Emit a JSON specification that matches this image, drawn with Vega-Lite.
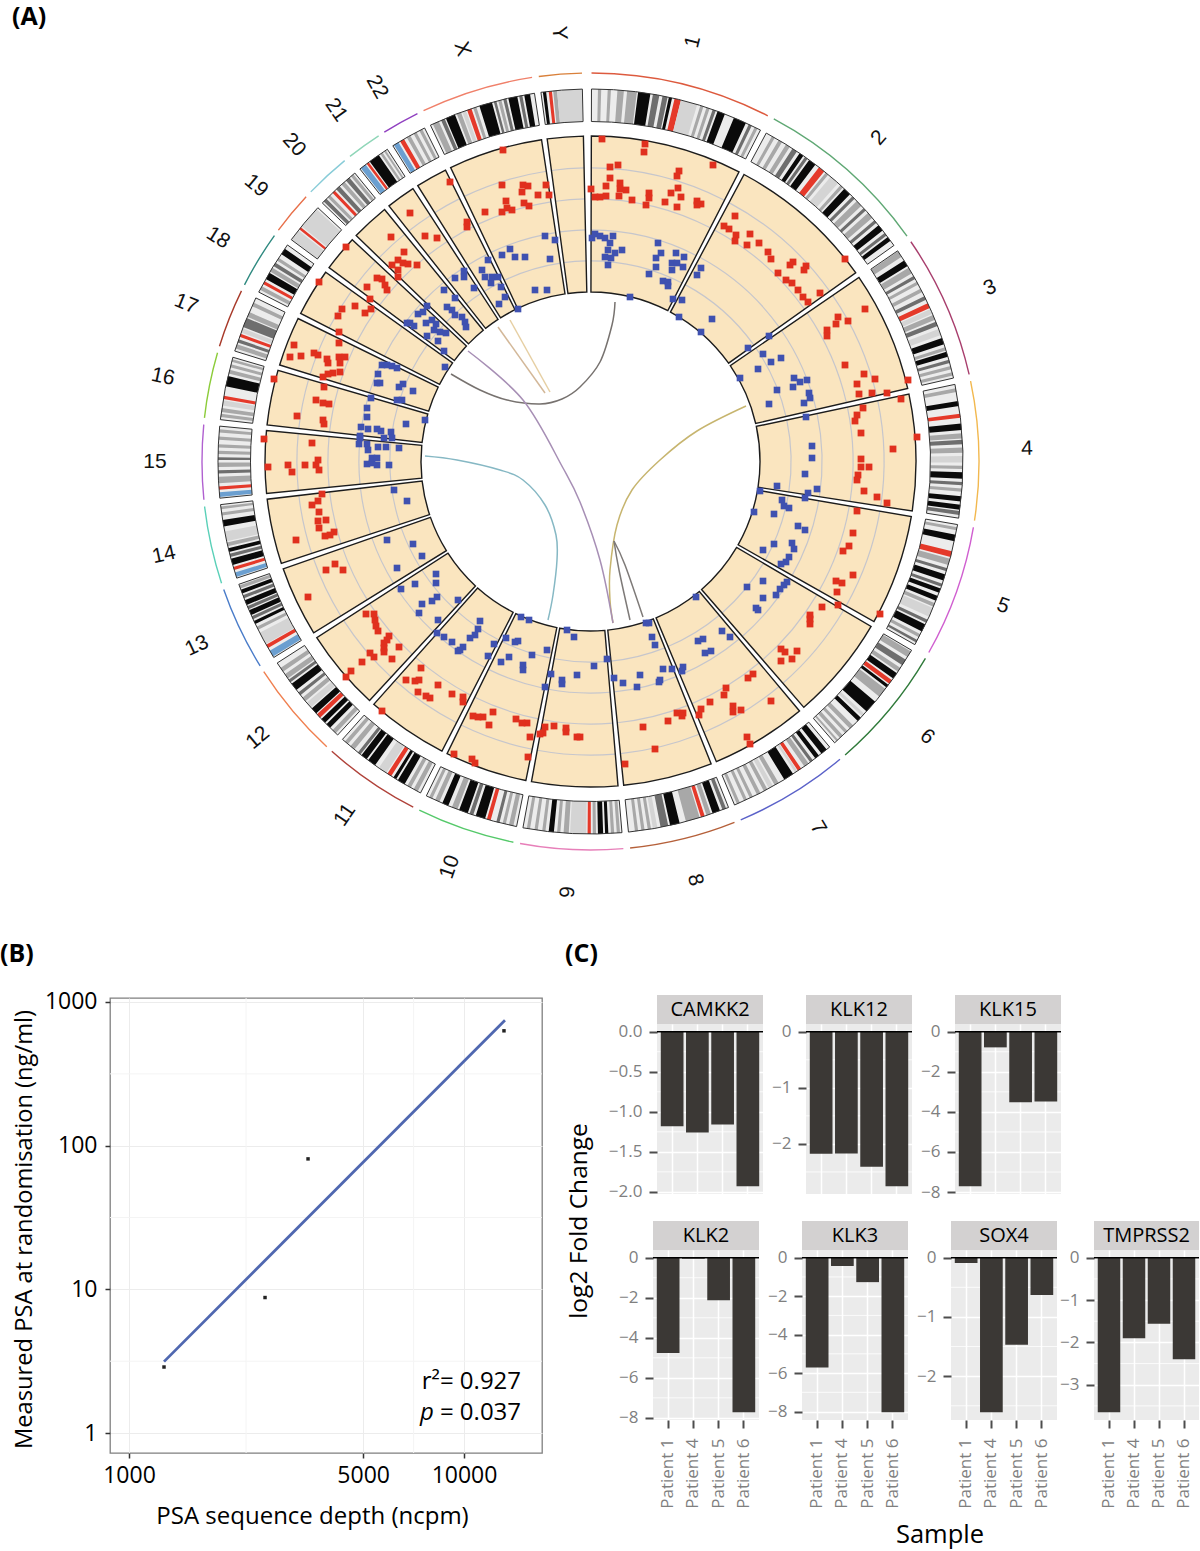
{"$schema":"https://vega.github.io/schema/vega-lite/v6.json","padding":0,"background":"white","bounds":"flush","spacing":0,
"config":{"font":"Open Sans","view":{"stroke":null},"axis":{"domain":false,"tickColor":"#4d4d4d","tickWidth":2,"tickSize":8,"labelColor":"#7f7f7f","labelFontSize":17,"labelFontWeight":"normal","gridColor":"#ffffff","gridWidth":1.5,"labelPadding":7},"title":{"font":"Open Sans","fontSize":20,"fontWeight":"normal","color":"#000000","frame":"group","anchor":"middle","offset":-25}},
"datasets":{
"chr":[{"chr":"1","a0":0.5,"a1":27.5},{"chr":"2","a0":28.5,"a1":54.9},{"chr":"3","a0":55.9,"a1":77.4},{"chr":"4","a0":78.4,"a1":99.1},{"chr":"5","a0":100.1,"a1":119.8},{"chr":"6","a0":120.8,"a1":139.4},{"chr":"7","a0":140.4,"a1":157.6},{"chr":"8","a0":158.6,"a1":174.5},{"chr":"9","a0":175.5,"a1":190.8},{"chr":"10","a0":191.8,"a1":206.5},{"chr":"11","a0":207.5,"a1":222.1},{"chr":"12","a0":223.1,"a1":237.6},{"chr":"13","a0":238.6,"a1":251.1},{"chr":"14","a0":252.1,"a1":263.7},{"chr":"15","a0":264.7,"a1":275.8},{"chr":"16","a0":276.8,"a1":286.6},{"chr":"17","a0":287.6,"a1":296.4},{"chr":"18","a0":297.4,"a1":305.9},{"chr":"19","a0":306.9,"a1":313.3},{"chr":"20","a0":314.3,"a1":321.1},{"chr":"21","a0":322.1,"a1":327.3},{"chr":"22","a0":328.3,"a1":333.9},{"chr":"X","a0":334.9,"a1":351.7},{"chr":"Y","a0":352.7,"a1":359.1}],
"chrlabels":[{"t":"1","x":693,"y":42,"rot":-76},{"t":"2","x":879,"y":138,"rot":-48},{"t":"3","x":990,"y":288,"rot":-23},{"t":"4","x":1027,"y":449,"rot":-1},{"t":"5","x":1003,"y":606,"rot":20},{"t":"6","x":927,"y":737,"rot":40},{"t":"7","x":818,"y":828,"rot":59},{"t":"8","x":695,"y":880,"rot":76},{"t":"9","x":568,"y":892,"rot":-87},{"t":"10","x":450,"y":867,"rot":-71},{"t":"11","x":345,"y":815,"rot":-55},{"t":"12","x":258,"y":738,"rot":-40},{"t":"13","x":197,"y":646,"rot":-25},{"t":"14","x":164,"y":555,"rot":-12},{"t":"15","x":155,"y":462,"rot":0},{"t":"16","x":163,"y":377,"rot":12},{"t":"17","x":186,"y":304,"rot":22},{"t":"18","x":218,"y":238,"rot":32},{"t":"19","x":256,"y":186,"rot":40},{"t":"20","x":294,"y":145,"rot":48},{"t":"21","x":336,"y":110,"rot":55},{"t":"22","x":377,"y":87,"rot":61},{"t":"X","x":462,"y":49,"rot":73},{"t":"Y","x":559,"y":33,"rot":86}],
"bands":[
{"a0":1.5,"a1":2,"s":"g"},{"a0":3,"a1":3.5,"s":"g"},{"a0":4.5,"a1":5.5,"s":"g"},{"a0":6,"a1":7.5,"s":"g"},{"a0":7.7,"a1":9.6,"s":"k"},{"a0":10,"a1":11,"s":"d"},{"a0":11.5,"a1":12.3,"s":"d"},{"a0":12.5,"a1":13,"s":"k"},{"a0":13.4,"a1":14.4,"s":"r"},{"a0":14.4,"a1":17,"s":"l"},{"a0":17.5,"a1":18,"s":"g"},{"a0":18.5,"a1":19,"s":"g"},{"a0":19.5,"a1":20,"s":"d"},{"a0":20.3,"a1":21.5,"s":"k"},{"a0":23,"a1":25,"s":"k"},{"a0":25.5,"a1":26,"s":"d"},{"a0":26.5,"a1":27,"s":"g"},
{"a0":29.5,"a1":30,"s":"g"},{"a0":30.7,"a1":31.3,"s":"g"},{"a0":32,"a1":32.7,"s":"g"},{"a0":33.2,"a1":34,"s":"d"},{"a0":34.5,"a1":35.2,"s":"k"},{"a0":35.5,"a1":36,"s":"d"},{"a0":36.3,"a1":37.5,"s":"k"},{"a0":38.2,"a1":39.2,"s":"r"},{"a0":39.5,"a1":40,"s":"g"},{"a0":40.5,"a1":42,"s":"l"},{"a0":42.5,"a1":43,"s":"g"},{"a0":43.3,"a1":44.5,"s":"k"},{"a0":45,"a1":45.5,"s":"d"},{"a0":46,"a1":47,"s":"g"},{"a0":47.5,"a1":48,"s":"d"},{"a0":48.5,"a1":49.5,"s":"g"},{"a0":50,"a1":50.5,"s":"d"},{"a0":51,"a1":52,"s":"k"},{"a0":52.5,"a1":53,"s":"d"},{"a0":53.3,"a1":54,"s":"k"},
{"a0":56,"a1":57,"s":"g"},{"a0":57.7,"a1":58.7,"s":"k"},{"a0":59,"a1":60,"s":"g"},{"a0":60.5,"a1":61,"s":"d"},{"a0":61.5,"a1":62,"s":"g"},{"a0":62.7,"a1":63.3,"s":"g"},{"a0":64,"a1":64.6,"s":"d"},{"a0":65.2,"a1":66,"s":"r"},{"a0":66.2,"a1":67,"s":"l"},{"a0":67.2,"a1":68,"s":"g"},{"a0":68.3,"a1":69,"s":"d"},{"a0":69.5,"a1":70.5,"s":"l"},{"a0":71,"a1":72,"s":"k"},{"a0":72.5,"a1":73,"s":"g"},{"a0":73.2,"a1":74,"s":"k"},{"a0":74.5,"a1":75,"s":"d"},{"a0":75.5,"a1":76,"s":"g"},{"a0":76.5,"a1":77,"s":"g"},
{"a0":79,"a1":79.6,"s":"g"},{"a0":81,"a1":81.8,"s":"k"},{"a0":83,"a1":83.6,"s":"r"},{"a0":84.5,"a1":85.5,"s":"k"},{"a0":86,"a1":86.8,"s":"g"},{"a0":87,"a1":87.7,"s":"d"},{"a0":88.2,"a1":89,"s":"g"},{"a0":89.5,"a1":90.5,"s":"l"},{"a0":91,"a1":91.5,"s":"g"},{"a0":92,"a1":93,"s":"k"},{"a0":93.5,"a1":94,"s":"d"},{"a0":94.5,"a1":95,"s":"g"},{"a0":95.7,"a1":96.5,"s":"k"},{"a0":97,"a1":97.8,"s":"k"},{"a0":98,"a1":98.6,"s":"d"},
{"a0":100.5,"a1":101,"s":"g"},{"a0":101.7,"a1":102.7,"s":"k"},{"a0":104.3,"a1":105.2,"s":"r"},{"a0":105.5,"a1":106.5,"s":"g"},{"a0":107,"a1":107.5,"s":"d"},{"a0":108,"a1":109,"s":"k"},{"a0":109.5,"a1":110,"s":"d"},{"a0":110.3,"a1":111,"s":"k"},{"a0":111.5,"a1":112.3,"s":"k"},{"a0":112.7,"a1":113.3,"s":"g"},{"a0":113.5,"a1":115,"s":"l"},{"a0":115.5,"a1":116,"s":"d"},{"a0":116.3,"a1":117.5,"s":"k"},{"a0":118,"a1":118.5,"s":"g"},{"a0":119,"a1":119.4,"s":"d"},
{"a0":121,"a1":122,"s":"g"},{"a0":122.5,"a1":123.5,"s":"d"},{"a0":124,"a1":124.7,"s":"g"},{"a0":125,"a1":126,"s":"k"},{"a0":126.3,"a1":127,"s":"r"},{"a0":127.2,"a1":127.7,"s":"k"},{"a0":128,"a1":129.5,"s":"g"},{"a0":130.5,"a1":132.5,"s":"k"},{"a0":133,"a1":133.5,"s":"l"},{"a0":133.8,"a1":134.5,"s":"k"},{"a0":135.5,"a1":136.2,"s":"g"},{"a0":136.7,"a1":137.2,"s":"g"},{"a0":137.7,"a1":138.3,"s":"g"},{"a0":138.7,"a1":139,"s":"g"},
{"a0":141,"a1":142,"s":"k"},{"a0":142.5,"a1":143.2,"s":"k"},{"a0":143.7,"a1":144.2,"s":"d"},{"a0":144.5,"a1":145.3,"s":"g"},{"a0":145.9,"a1":146.5,"s":"r"},{"a0":146.6,"a1":147,"s":"l"},{"a0":147.4,"a1":149,"s":"k"},{"a0":150,"a1":150.7,"s":"g"},{"a0":151,"a1":151.7,"s":"l"},{"a0":152,"a1":152.6,"s":"g"},{"a0":153.2,"a1":153.8,"s":"g"},{"a0":154.5,"a1":155,"s":"g"},{"a0":155.5,"a1":156,"s":"g"},{"a0":156.7,"a1":157.2,"s":"g"},
{"a0":159,"a1":159.6,"s":"d"},{"a0":160,"a1":161.2,"s":"k"},{"a0":161.5,"a1":162.2,"s":"g"},{"a0":162.5,"a1":163.1,"s":"r"},{"a0":163.3,"a1":165.5,"s":"g"},{"a0":166.5,"a1":168,"s":"k"},{"a0":168.3,"a1":169.5,"s":"d"},{"a0":170,"a1":170.7,"s":"l"},{"a0":171,"a1":171.5,"s":"g"},{"a0":172,"a1":172.5,"s":"g"},{"a0":173,"a1":173.5,"s":"g"},
{"a0":175.8,"a1":176.3,"s":"g"},{"a0":176.7,"a1":177.2,"s":"g"},{"a0":177.6,"a1":178.1,"s":"k"},{"a0":178.4,"a1":179.2,"s":"k"},{"a0":179.5,"a1":180,"s":"g"},{"a0":180.3,"a1":180.8,"s":"r"},{"a0":181,"a1":183.5,"s":"l"},{"a0":183.7,"a1":184.5,"s":"g"},{"a0":185,"a1":185.5,"s":"g"},{"a0":186,"a1":186.8,"s":"k"},{"a0":187.3,"a1":187.8,"s":"g"},{"a0":188.5,"a1":189,"s":"g"},{"a0":189.7,"a1":190.2,"s":"g"},
{"a0":192.3,"a1":193,"s":"g"},{"a0":193.5,"a1":194,"s":"g"},{"a0":194.5,"a1":195,"s":"d"},{"a0":195.9,"a1":196.5,"s":"r"},{"a0":196.8,"a1":198.3,"s":"k"},{"a0":198.7,"a1":199.3,"s":"d"},{"a0":199.6,"a1":201,"s":"k"},{"a0":201.3,"a1":202.2,"s":"g"},{"a0":202.8,"a1":203.8,"s":"k"},{"a0":204.3,"a1":205,"s":"g"},{"a0":205.5,"a1":206,"s":"g"},
{"a0":208,"a1":208.7,"s":"g"},{"a0":209.2,"a1":209.8,"s":"g"},{"a0":210.3,"a1":211.5,"s":"k"},{"a0":211.8,"a1":212.3,"s":"k"},{"a0":212.7,"a1":213.4,"s":"r"},{"a0":213.6,"a1":215,"s":"l"},{"a0":215.7,"a1":217,"s":"k"},{"a0":217.3,"a1":218.3,"s":"k"},{"a0":218.5,"a1":219,"s":"d"},{"a0":219.7,"a1":220.5,"s":"g"},{"a0":221,"a1":221.6,"s":"g"},
{"a0":223.5,"a1":224.2,"s":"g"},{"a0":224.7,"a1":225.5,"s":"k"},{"a0":225.8,"a1":226.6,"s":"k"},{"a0":226.9,"a1":227.6,"s":"r"},{"a0":227.8,"a1":228.8,"s":"k"},{"a0":229,"a1":230,"s":"l"},{"a0":230.3,"a1":231,"s":"g"},{"a0":231.5,"a1":232,"s":"d"},{"a0":232.5,"a1":233.7,"s":"k"},{"a0":234,"a1":234.5,"s":"d"},{"a0":234.7,"a1":235.5,"s":"g"},{"a0":236,"a1":236.7,"s":"g"},
{"a0":238.8,"a1":239.8,"s":"b"},{"a0":240.3,"a1":240.9,"s":"r"},{"a0":241,"a1":243,"s":"l"},{"a0":243.5,"a1":244,"s":"g"},{"a0":244.5,"a1":245,"s":"k"},{"a0":245.3,"a1":245.8,"s":"d"},{"a0":246,"a1":246.8,"s":"k"},{"a0":247,"a1":247.5,"s":"d"},{"a0":247.7,"a1":248.5,"s":"k"},{"a0":248.8,"a1":249.3,"s":"d"},{"a0":249.6,"a1":250.2,"s":"k"},{"a0":250.4,"a1":250.9,"s":"g"},
{"a0":252.3,"a1":253,"s":"b"},{"a0":253.4,"a1":253.9,"s":"r"},{"a0":254.2,"a1":255.2,"s":"k"},{"a0":255.5,"a1":256,"s":"d"},{"a0":256.3,"a1":256.9,"s":"k"},{"a0":257.2,"a1":257.8,"s":"g"},{"a0":258,"a1":259.5,"s":"l"},{"a0":260.3,"a1":261.3,"s":"k"},{"a0":262,"a1":262.5,"s":"g"},{"a0":263,"a1":263.4,"s":"g"},
{"a0":264.9,"a1":265.6,"s":"b"},{"a0":266,"a1":266.5,"s":"r"},{"a0":267,"a1":268,"s":"g"},{"a0":268.5,"a1":269,"s":"d"},{"a0":269.5,"a1":270.2,"s":"g"},{"a0":270.6,"a1":271,"s":"d"},{"a0":271.5,"a1":272,"s":"g"},{"a0":272.5,"a1":273,"s":"g"},{"a0":273.7,"a1":274.2,"s":"g"},{"a0":274.8,"a1":275.3,"s":"g"},
{"a0":277.2,"a1":277.7,"s":"g"},{"a0":278,"a1":278.6,"s":"g"},{"a0":279,"a1":279.8,"s":"l"},{"a0":280,"a1":280.5,"s":"r"},{"a0":282,"a1":283.6,"s":"k"},{"a0":284,"a1":284.6,"s":"g"},{"a0":285,"a1":285.5,"s":"g"},{"a0":285.9,"a1":286.3,"s":"g"},
{"a0":288,"a1":288.7,"s":"g"},{"a0":289,"a1":289.5,"s":"d"},{"a0":289.9,"a1":290.4,"s":"r"},{"a0":290.6,"a1":291.3,"s":"l"},{"a0":291.5,"a1":293,"s":"d"},{"a0":293.2,"a1":294,"s":"g"},{"a0":295,"a1":295.6,"s":"g"},
{"a0":297.8,"a1":298.4,"s":"g"},{"a0":298.8,"a1":299.3,"s":"r"},{"a0":299.7,"a1":300.8,"s":"k"},{"a0":301,"a1":301.7,"s":"g"},{"a0":302,"a1":302.6,"s":"d"},{"a0":303,"a1":303.5,"s":"g"},{"a0":304.2,"a1":305.2,"s":"k"},
{"a0":307,"a1":308.7,"s":"l"},{"a0":308.9,"a1":309.3,"s":"r"},{"a0":309.5,"a1":313,"s":"l"},
{"a0":314.6,"a1":315.2,"s":"d"},{"a0":315.5,"a1":316,"s":"g"},{"a0":316.5,"a1":317,"s":"r"},{"a0":317.3,"a1":318,"s":"d"},{"a0":318.4,"a1":319,"s":"g"},{"a0":319.3,"a1":320,"s":"d"},{"a0":320.3,"a1":320.8,"s":"g"},
{"a0":322.3,"a1":323.2,"s":"b"},{"a0":323.4,"a1":323.8,"s":"r"},{"a0":324,"a1":325.7,"s":"k"},{"a0":326,"a1":326.4,"s":"g"},{"a0":326.7,"a1":327,"s":"g"},
{"a0":328.5,"a1":329.3,"s":"b"},{"a0":329.6,"a1":330.3,"s":"r"},{"a0":330.8,"a1":331.4,"s":"g"},{"a0":332,"a1":332.5,"s":"g"},{"a0":333,"a1":333.5,"s":"g"},
{"a0":335.3,"a1":336.3,"s":"g"},{"a0":336.7,"a1":337.3,"s":"d"},{"a0":337.5,"a1":339,"s":"k"},{"a0":339.3,"a1":340,"s":"g"},{"a0":340.2,"a1":340.8,"s":"l"},{"a0":341,"a1":341.7,"s":"r"},{"a0":342,"a1":342.5,"s":"g"},{"a0":343,"a1":345,"s":"k"},{"a0":345.3,"a1":345.7,"s":"d"},{"a0":346,"a1":346.5,"s":"g"},{"a0":346.8,"a1":347.3,"s":"d"},{"a0":347.6,"a1":349,"s":"k"},{"a0":349.3,"a1":349.8,"s":"d"},{"a0":350.1,"a1":351,"s":"k"},
{"a0":353,"a1":353.5,"s":"k"},{"a0":353.9,"a1":354.4,"s":"r"},{"a0":354.6,"a1":355.2,"s":"g"},{"a0":355.2,"a1":359,"s":"l"}],
"up":[{"x":602,"y":139},{"x":645,"y":144},{"x":644,"y":152},{"x":610,"y":167},{"x":618,"y":165},{"x":679,"y":171},{"x":677,"y":176},{"x":610,"y":178},{"x":713,"y":165},{"x":620,"y":183},{"x":606,"y":186},{"x":591,"y":189},{"x":620,"y":189},{"x":626,"y":190},{"x":678,"y":188},{"x":619,"y":196},{"x":595,"y":197},{"x":600,"y":197},{"x":606,"y":196},{"x":632,"y":200},{"x":649,"y":193},{"x":649,"y":198},{"x":646,"y":205},{"x":671,"y":193},{"x":681,"y":197},{"x":665,"y":202},{"x":677,"y":207},{"x":697,"y":201},{"x":701,"y":204},{"x":697,"y":205},{"x":735,"y":216},{"x":724,"y":226},{"x":729,"y":229},{"x":736,"y":235},{"x":735,"y":241},{"x":750,"y":234},{"x":747,"y":245},{"x":759,"y":243},{"x":768,"y":252},{"x":771,"y":259},{"x":793,"y":262},{"x":790,"y":265},{"x":806,"y":266},{"x":804,"y":270},{"x":845,"y":259},{"x":778,"y":273},{"x":786,"y":280},{"x":792,"y":283},{"x":798,"y":290},{"x":803,"y":297},{"x":808,"y":302},{"x":820,"y":293},{"x":865,"y":309},{"x":838,"y":317},{"x":836,"y":324},{"x":848,"y":321},{"x":827,"y":330},{"x":827,"y":336},{"x":845,"y":365},{"x":864,"y":374},{"x":875,"y":379},{"x":857,"y":384},{"x":859,"y":394},{"x":872,"y":393},{"x":887,"y":393},{"x":908,"y":380},{"x":901,"y":399},{"x":863,"y":408},{"x":857,"y":415},{"x":855,"y":421},{"x":861,"y":433},{"x":917,"y":437},{"x":893,"y":449},{"x":861,"y":459},{"x":861,"y":467},{"x":869,"y":467},{"x":858,"y":475},{"x":857,"y":480},{"x":864,"y":491},{"x":877,"y":497},{"x":887,"y":503},{"x":857,"y":511},{"x":853,"y":533},{"x":849,"y":546},{"x":843,"y":551},{"x":853,"y":575},{"x":836,"y":581},{"x":842,"y":583},{"x":837,"y":592},{"x":838,"y":605},{"x":880,"y":614},{"x":822,"y":607},{"x":810,"y":615},{"x":810,"y":619},{"x":810,"y":624},{"x":781,"y":649},{"x":785,"y":652},{"x":797,"y":651},{"x":792,"y":659},{"x":781,"y":661},{"x":753,"y":674},{"x":748,"y":678},{"x":726,"y":688},{"x":724,"y":695},{"x":710,"y":702},{"x":771,"y":701},{"x":733,"y":706},{"x":733,"y":712},{"x":741,"y":710},{"x":701,"y":709},{"x":699,"y":715},{"x":747,"y":737},{"x":750,"y":744},{"x":677,"y":713},{"x":683,"y":713},{"x":682,"y":716},{"x":668,"y":721},{"x":643,"y":727},{"x":655,"y":749},{"x":625,"y":764},{"x":580,"y":737},{"x":577,"y":737},{"x":566,"y":728},{"x":566,"y":732},{"x":554,"y":726},{"x":545,"y":727},{"x":543,"y":733},{"x":540,"y":734},{"x":530,"y":737},{"x":527,"y":723},{"x":522,"y":723},{"x":516,"y":719},{"x":528,"y":757},{"x":493,"y":712},{"x":489,"y":725},{"x":483,"y":717},{"x":478,"y":717},{"x":473,"y":716},{"x":454,"y":754},{"x":472,"y":759},{"x":475,"y":763},{"x":463,"y":697},{"x":463,"y":702},{"x":452,"y":694},{"x":438,"y":685},{"x":421,"y":668},{"x":406,"y":680},{"x":415,"y":681},{"x":419,"y":680},{"x":418,"y":692},{"x":426,"y":696},{"x":430,"y":698},{"x":382,"y":711},{"x":366,"y":614},{"x":374,"y":614},{"x":375,"y":620},{"x":376,"y":626},{"x":378,"y":631},{"x":389,"y":636},{"x":387,"y":640},{"x":384,"y":643},{"x":384,"y":648},{"x":384,"y":652},{"x":399,"y":647},{"x":392,"y":659},{"x":370,"y":653},{"x":374,"y":657},{"x":362,"y":662},{"x":351,"y":671},{"x":346,"y":677},{"x":335,"y":564},{"x":326,"y":570},{"x":343,"y":570},{"x":308,"y":597},{"x":322,"y":494},{"x":318,"y":501},{"x":312,"y":505},{"x":319,"y":512},{"x":318,"y":521},{"x":326,"y":520},{"x":319,"y":528},{"x":334,"y":532},{"x":330,"y":535},{"x":325,"y":536},{"x":296,"y":540},{"x":268,"y":467},{"x":288,"y":465},{"x":292,"y":472},{"x":305,"y":465},{"x":316,"y":465},{"x":319,"y":470},{"x":318,"y":460},{"x":264,"y":439},{"x":312,"y":443},{"x":274,"y":379},{"x":324,"y":387},{"x":316,"y":400},{"x":323,"y":403},{"x":329,"y":404},{"x":297,"y":416},{"x":323,"y":420},{"x":324,"y":424},{"x":294,"y":345},{"x":290,"y":357},{"x":301,"y":356},{"x":314,"y":353},{"x":318,"y":355},{"x":327,"y":359},{"x":328,"y":363},{"x":339,"y":357},{"x":345,"y":357},{"x":340,"y":363},{"x":340,"y":372},{"x":333,"y":373},{"x":328,"y":374},{"x":323,"y":377},{"x":339,"y":332},{"x":339,"y":343},{"x":319,"y":282},{"x":355,"y":306},{"x":342,"y":309},{"x":338,"y":316},{"x":365,"y":313},{"x":371,"y":309},{"x":370,"y":299},{"x":346,"y":247},{"x":367,"y":287},{"x":377,"y":278},{"x":382,"y":279},{"x":385,"y":285},{"x":387,"y":290},{"x":391,"y":237},{"x":404,"y":252},{"x":392,"y":265},{"x":398,"y":260},{"x":403,"y":263},{"x":408,"y":264},{"x":417,"y":265},{"x":398,"y":270},{"x":398,"y":277},{"x":410,"y":213},{"x":425,"y":236},{"x":437,"y":238},{"x":450,"y":182},{"x":467,"y":222},{"x":467,"y":227},{"x":503,"y":150},{"x":502,"y":185},{"x":523,"y":185},{"x":528,"y":186},{"x":522,"y":192},{"x":546,"y":185},{"x":538,"y":195},{"x":549,"y":195},{"x":506,"y":201},{"x":485,"y":212},{"x":502,"y":212},{"x":507,"y":208},{"x":512,"y":210},{"x":524,"y":203},{"x":529,"y":206}],
"down":[{"x":592,"y":238},{"x":595,"y":234},{"x":600,"y":236},{"x":605,"y":238},{"x":613,"y":236},{"x":610,"y":243},{"x":608,"y":250},{"x":605,"y":257},{"x":615,"y":253},{"x":622,"y":250},{"x":611,"y":258},{"x":608,"y":265},{"x":658,"y":243},{"x":661,"y":253},{"x":656,"y":258},{"x":676,"y":253},{"x":684,"y":257},{"x":656,"y":267},{"x":672,"y":263},{"x":677,"y":263},{"x":672,"y":270},{"x":683,"y":267},{"x":649,"y":274},{"x":663,"y":281},{"x":668,"y":282},{"x":668,"y":286},{"x":630,"y":297},{"x":673,"y":299},{"x":701,"y":268},{"x":697,"y":275},{"x":682,"y":300},{"x":679,"y":317},{"x":712,"y":319},{"x":701,"y":332},{"x":748,"y":348},{"x":769,"y":336},{"x":763,"y":354},{"x":781,"y":358},{"x":771,"y":362},{"x":758,"y":369},{"x":740,"y":378},{"x":794,"y":378},{"x":800,"y":382},{"x":807,"y":380},{"x":793,"y":387},{"x":777,"y":390},{"x":809,"y":393},{"x":810,"y":398},{"x":804,"y":403},{"x":769,"y":404},{"x":806,"y":417},{"x":812,"y":446},{"x":812,"y":458},{"x":805,"y":474},{"x":777,"y":486},{"x":817,"y":489},{"x":808,"y":493},{"x":805,"y":498},{"x":760,"y":491},{"x":782,"y":500},{"x":784,"y":506},{"x":789,"y":508},{"x":754,"y":512},{"x":774,"y":514},{"x":798,"y":526},{"x":805,"y":530},{"x":774,"y":544},{"x":763,"y":550},{"x":792,"y":543},{"x":794,"y":549},{"x":789,"y":557},{"x":786,"y":562},{"x":781,"y":564},{"x":787,"y":582},{"x":784,"y":585},{"x":780,"y":589},{"x":776,"y":595},{"x":747,"y":587},{"x":763,"y":581},{"x":763,"y":598},{"x":756,"y":608},{"x":758,"y":610},{"x":696,"y":597},{"x":722,"y":631},{"x":730,"y":637},{"x":703,"y":639},{"x":698,"y":641},{"x":711,"y":651},{"x":705,"y":653},{"x":683,"y":667},{"x":682,"y":671},{"x":660,"y":680},{"x":646,"y":623},{"x":649,"y":623},{"x":652,"y":637},{"x":655,"y":645},{"x":663,"y":669},{"x":672,"y":669},{"x":640,"y":675},{"x":614,"y":678},{"x":623,"y":683},{"x":637,"y":687},{"x":659,"y":682},{"x":607,"y":659},{"x":594,"y":666},{"x":567,"y":630},{"x":574,"y":637},{"x":577,"y":675},{"x":562,"y":680},{"x":562,"y":684},{"x":551,"y":674},{"x":545,"y":687},{"x":521,"y":617},{"x":529,"y":620},{"x":547,"y":650},{"x":532,"y":655},{"x":509,"y":657},{"x":501,"y":662},{"x":523,"y":665},{"x":523,"y":670},{"x":518,"y":641},{"x":506,"y":638},{"x":515,"y":642},{"x":494,"y":644},{"x":488,"y":656},{"x":480,"y":621},{"x":478,"y":629},{"x":475,"y":635},{"x":470,"y":638},{"x":463,"y":647},{"x":460,"y":650},{"x":458,"y":651},{"x":452,"y":642},{"x":444,"y":637},{"x":437,"y":633},{"x":458,"y":600},{"x":436,"y":574},{"x":436,"y":583},{"x":415,"y":584},{"x":401,"y":589},{"x":437,"y":597},{"x":432,"y":601},{"x":422,"y":604},{"x":419,"y":613},{"x":438,"y":620},{"x":387,"y":540},{"x":413,"y":544},{"x":422,"y":556},{"x":397,"y":568},{"x":394,"y":490},{"x":407,"y":501},{"x":367,"y":464},{"x":372,"y":463},{"x":377,"y":465},{"x":389,"y":465},{"x":361,"y":427},{"x":368,"y":429},{"x":377,"y":429},{"x":381,"y":431},{"x":391,"y":432},{"x":360,"y":436},{"x":360,"y":438},{"x":384,"y":438},{"x":392,"y":438},{"x":359,"y":444},{"x":367,"y":444},{"x":368,"y":450},{"x":378,"y":447},{"x":386,"y":447},{"x":399,"y":448},{"x":372,"y":458},{"x":377,"y":458},{"x":371,"y":398},{"x":367,"y":408},{"x":367,"y":417},{"x":406,"y":424},{"x":425,"y":420},{"x":397,"y":400},{"x":402,"y":400},{"x":382,"y":365},{"x":387,"y":365},{"x":392,"y":366},{"x":397,"y":368},{"x":378,"y":374},{"x":377,"y":383},{"x":380,"y":383},{"x":399,"y":387},{"x":403,"y":384},{"x":413,"y":391},{"x":445,"y":367},{"x":410,"y":323},{"x":414,"y":326},{"x":407,"y":323},{"x":418,"y":314},{"x":427,"y":306},{"x":423,"y":312},{"x":426,"y":323},{"x":432,"y":320},{"x":436,"y":324},{"x":434,"y":330},{"x":440,"y":332},{"x":446,"y":333},{"x":427,"y":336},{"x":438,"y":341},{"x":444,"y":351},{"x":444,"y":290},{"x":455,"y":298},{"x":447,"y":307},{"x":452,"y":310},{"x":455,"y":315},{"x":462,"y":317},{"x":465,"y":322},{"x":466,"y":327},{"x":455,"y":278},{"x":464,"y":271},{"x":464,"y":277},{"x":474,"y":288},{"x":488,"y":260},{"x":482,"y":270},{"x":485,"y":277},{"x":491,"y":283},{"x":492,"y":277},{"x":498,"y":277},{"x":501,"y":287},{"x":505,"y":297},{"x":499,"y":304},{"x":518,"y":309},{"x":502,"y":255},{"x":510,"y":249},{"x":515,"y":257},{"x":525,"y":257},{"x":545,"y":236},{"x":555,"y":240},{"x":550,"y":259},{"x":535,"y":290},{"x":547,"y":290}],
"links":[{"l":"a","i":0,"x":615,"y":302},{"l":"a","i":1,"x":612,"y":325},{"l":"a","i":2,"x":600,"y":362},{"l":"a","i":3,"x":580,"y":387},{"l":"a","i":4,"x":562,"y":399},{"l":"a","i":5,"x":540,"y":404},{"l":"a","i":6,"x":507,"y":400},{"l":"a","i":7,"x":480,"y":390},{"l":"a","i":8,"x":451,"y":374},
{"l":"b","i":0,"x":746,"y":406},{"l":"b","i":1,"x":697,"y":431},{"l":"b","i":2,"x":660,"y":460},{"l":"b","i":3,"x":632,"y":490},{"l":"b","i":4,"x":617,"y":525},{"l":"b","i":5,"x":610,"y":570},{"l":"b","i":6,"x":610,"y":600},{"l":"b","i":7,"x":613,"y":623},
{"l":"c","i":0,"x":614,"y":541},{"l":"c","i":1,"x":619,"y":570},{"l":"c","i":2,"x":630,"y":620},
{"l":"d","i":0,"x":614,"y":541},{"l":"d","i":1,"x":625,"y":565},{"l":"d","i":2,"x":643,"y":617},
{"l":"e","i":0,"x":468,"y":351},{"l":"e","i":1,"x":523,"y":400},{"l":"e","i":2,"x":563,"y":468},{"l":"e","i":3,"x":580,"y":502},{"l":"e","i":4,"x":600,"y":560},{"l":"e","i":5,"x":613,"y":623},
{"l":"f","i":0,"x":425,"y":456},{"l":"f","i":1,"x":457,"y":460},{"l":"f","i":2,"x":500,"y":470},{"l":"f","i":3,"x":523,"y":480},{"l":"f","i":4,"x":545,"y":505},{"l":"f","i":5,"x":556,"y":535},{"l":"f","i":6,"x":557,"y":560},{"l":"f","i":7,"x":553,"y":595},{"l":"f","i":8,"x":548,"y":620},
{"l":"g","i":0,"x":498,"y":327},{"l":"g","i":1,"x":545,"y":393},{"l":"h","i":0,"x":510,"y":320},{"l":"h","i":1,"x":550,"y":392}],
"notes":[{"t":"log2 Fold Change","x":580,"y":1221,"rot":-90,"f":24.5},{"t":"Sample","x":940,"y":1535,"rot":0,"f":25.5}],
"letters":[{"t":"(A)","x":12,"y":17},{"t":"(B)","x":0,"y":954},{"t":"(C)","x":565,"y":954}],
"psa":[{"x":1272,"y":2.88},{"x":2547,"y":8.77},{"x":3423,"y":80.9},{"x":13160,"y":630}],
"fit":[{"x":1272,"y":3.14},{"x":13250,"y":745}],
"fold":[{"g":"CAMKK2","p":"Patient 1","v":-1.18},{"g":"CAMKK2","p":"Patient 4","v":-1.26},{"g":"CAMKK2","p":"Patient 5","v":-1.16},{"g":"CAMKK2","p":"Patient 6","v":-1.93},{"g":"KLK12","p":"Patient 1","v":-2.175},{"g":"KLK12","p":"Patient 4","v":-2.17},{"g":"KLK12","p":"Patient 5","v":-2.405},{"g":"KLK12","p":"Patient 6","v":-2.755},{"g":"KLK15","p":"Patient 1","v":-7.71},{"g":"KLK15","p":"Patient 4","v":-0.78},{"g":"KLK15","p":"Patient 5","v":-3.52},{"g":"KLK15","p":"Patient 6","v":-3.48},{"g":"KLK2","p":"Patient 1","v":-4.76},{"g":"KLK2","p":"Patient 4","v":-0.05},{"g":"KLK2","p":"Patient 5","v":-2.13},{"g":"KLK2","p":"Patient 6","v":-7.72},{"g":"KLK3","p":"Patient 1","v":-5.71},{"g":"KLK3","p":"Patient 4","v":-0.43},{"g":"KLK3","p":"Patient 5","v":-1.27},{"g":"KLK3","p":"Patient 6","v":-8.04},{"g":"SOX4","p":"Patient 1","v":-0.09},{"g":"SOX4","p":"Patient 4","v":-2.61},{"g":"SOX4","p":"Patient 5","v":-1.47},{"g":"SOX4","p":"Patient 6","v":-0.63},{"g":"TMPRSS2","p":"Patient 1","v":-3.65},{"g":"TMPRSS2","p":"Patient 4","v":-1.9},{"g":"TMPRSS2","p":"Patient 5","v":-1.56},{"g":"TMPRSS2","p":"Patient 6","v":-2.4}]
},
"vconcat":[
{"width":1200,"height":998,"layer":[
{"encoding":{"x":{"datum":590.5,"type":"quantitative","axis":null,"scale":{"domain":[0,1200],"nice":false,"zero":false}},"y":{"datum":461.5,"type":"quantitative","axis":null,"scale":{"domain":[998,0],"nice":false,"zero":false}},"theta":{"field":"a0","type":"quantitative","scale":{"domain":[0.35,360.35],"range":[0,6.283185]}},"theta2":{"field":"a1"}},
"layer":[
{"data":{"name":"chr"},"mark":{"type":"arc","fill":"#fae5bf"},"encoding":{"radius":{"datum":169.5,"type":"quantitative","scale":null},"radius2":{"datum":325.5}}},
{"data":{"name":"chr"},"mark":{"type":"arc","fill":"#c6c6cc"},"encoding":{"radius":{"datum":200,"type":"quantitative","scale":null},"radius2":{"datum":201.2}}},
{"data":{"name":"chr"},"mark":{"type":"arc","fill":"#c6c6cc"},"encoding":{"radius":{"datum":231,"type":"quantitative","scale":null},"radius2":{"datum":232.2}}},
{"data":{"name":"chr"},"mark":{"type":"arc","fill":"#c6c6cc"},"encoding":{"radius":{"datum":262,"type":"quantitative","scale":null},"radius2":{"datum":263.2}}},
{"data":{"name":"chr"},"mark":{"type":"arc","fill":"#c6c6cc"},"encoding":{"radius":{"datum":293,"type":"quantitative","scale":null},"radius2":{"datum":294.2}}},
{"data":{"name":"chr"},"mark":{"type":"arc","fillOpacity":0,"stroke":"#1c1c1c","strokeWidth":1.4},"encoding":{"radius":{"datum":169.5,"type":"quantitative","scale":null},"radius2":{"datum":325.5}}},
{"data":{"name":"chr"},"mark":{"type":"arc","fill":"#ececec"},"encoding":{"radius":{"datum":340,"type":"quantitative","scale":null},"radius2":{"datum":372.5}}},
{"data":{"name":"bands"},"mark":{"type":"arc"},"encoding":{"radius":{"datum":340,"type":"quantitative","scale":null},"radius2":{"datum":372.5},"fill":{"field":"s","type":"nominal","legend":null,"scale":{"domain":["k","d","g","l","r","b"],"range":["#0a0a0a","#6e6e6e","#a8a8a8","#d4d4d4","#e5392a","#6b9fd0"]}}}},
{"data":{"name":"chr"},"mark":{"type":"arc","fillOpacity":0,"stroke":"#333333","strokeWidth":1},"encoding":{"radius":{"datum":340,"type":"quantitative","scale":null},"radius2":{"datum":372.5}}},
{"data":{"name":"chr"},"mark":{"type":"arc","fillOpacity":0,"strokeWidth":1.4},"encoding":{"radius":{"datum":388.5,"type":"quantitative","scale":null},"radius2":{"datum":388.5},"stroke":{"field":"chr","type":"nominal","legend":null,"scale":{"domain":["1","2","3","4","5","6","7","8","9","10","11","12","13","14","15","16","17","18","19","20","21","22","X","Y"],"range":["#dd5a3e","#5fa874","#a83e6d","#f2b84e","#d05fd0","#2f7a3a","#5b62c9","#b5603a","#e77fb9","#55c96a","#b0423a","#f08050","#4a7cc9","#5ad0b8","#b060d0","#8ccc3a","#a83a2a","#2f8a80","#e8704a","#88ccd8","#8fd6b8","#9040c0","#f0806a","#d9803a"]}}}}
]},
{"encoding":{"x":{"field":"x","type":"quantitative","axis":null,"scale":{"domain":[0,1200],"nice":false,"zero":false}},"y":{"field":"y","type":"quantitative","axis":null,"scale":{"domain":[998,0],"nice":false,"zero":false}}},
"layer":[
{"data":{"name":"links"},"mark":{"type":"line","interpolate":"cardinal","strokeWidth":1.5},"encoding":{"order":{"field":"i"},"color":{"field":"l","type":"nominal","legend":null,"scale":{"domain":["a","b","c","d","e","f","g","h"],"range":["#77726f","#c7b56f","#7e7a78","#7e7a78","#a78fb5","#86b8c4","#d3b899","#e6cfa3"]}}}},
{"data":{"name":"up"},"mark":{"type":"point","shape":"square","filled":true,"size":46,"opacity":1,"color":"#e0301e"}},
{"data":{"name":"down"},"mark":{"type":"point","shape":"square","filled":true,"size":44,"opacity":1,"color":"#3f51b0"}},
{"data":{"name":"chrlabels"},"mark":{"type":"text","font":"Liberation Sans","fontSize":21,"color":"#111111"},"encoding":{"text":{"field":"t"},"angle":{"field":"rot","type":"quantitative","scale":null}}},
{"data":{"name":"letters"},"mark":{"type":"text","align":"left","fontWeight":"bold","fontSize":25,"color":"#000000"},"encoding":{"text":{"field":"t"}}},
{"data":{"name":"notes"},"mark":{"type":"text","color":"#000000"},"encoding":{"text":{"field":"t"},"size":{"field":"f","type":"quantitative","scale":null},"angle":{"field":"rot","type":"quantitative","scale":null}}}
]}
]},
{"hconcat":[
{"width":110,"height":1,"data":{"values":[]},"mark":"point"},
{"width":432,"height":455,"view":{"stroke":"#7f7f7f","strokeWidth":1.3},"layer":[
{"data":{"values":[{"my":3.16},{"my":31.6},{"my":316}]},"mark":{"type":"rule","color":"#f4f4f4","strokeWidth":1},"encoding":{"y":{"field":"my","type":"quantitative"}}},
{"data":{"values":[{"mx":2236},{"mx":7071}]},"mark":{"type":"rule","color":"#f4f4f4","strokeWidth":1},"encoding":{"x":{"field":"mx","type":"quantitative"}}},
{"data":{"name":"psa"},"mark":{"type":"point","shape":"square","filled":true,"size":12,"opacity":1,"color":"#222222"},"encoding":{"x":{"field":"x","type":"quantitative","title":"PSA sequence depth (ncpm)","scale":{"type":"log","domain":[877.6,17090],"nice":false},"axis":{"values":[1000,5000,10000],"format":"d","gridColor":"#ececec","gridWidth":1,"tickColor":"#333333","tickWidth":1.5,"tickSize":5,"labelColor":"#000000","labelFontSize":23,"titleFontSize":24,"titleFontWeight":"normal","titleColor":"#000000","titlePadding":17,"labelPadding":6,"titleX":202}},"y":{"field":"y","type":"quantitative","title":"Measured PSA at randomisation (ng/ml)","scale":{"type":"log","domain":[0.726,1066],"nice":false},"axis":{"values":[1,10,100,1000],"format":"d","gridColor":"#ececec","gridWidth":1,"tickColor":"#333333","tickWidth":1.5,"tickSize":5,"labelColor":"#000000","labelFontSize":23,"titleFontSize":23.7,"titleFontWeight":"normal","titleColor":"#000000","titlePadding":8,"labelPadding":8,"titleY":231}}}},
{"data":{"name":"fit"},"mark":{"type":"line","color":"#4f67b0","strokeWidth":2.8},"encoding":{"x":{"field":"x","type":"quantitative"},"y":{"field":"y","type":"quantitative"}}},
{"data":{"values":[{"x":14800,"y":2.27,"t":"r²= 0.927"},{"x":14800,"y":1.38,"t":"= 0.037"}]},"mark":{"type":"text","align":"right","fontSize":24,"color":"#000000"},"encoding":{"x":{"field":"x","type":"quantitative"},"y":{"field":"y","type":"quantitative"},"text":{"field":"t"}}},
{"data":{"values":[{"x":7390,"y":1.38,"t":"p"}]},"mark":{"type":"text","align":"left","fontStyle":"italic","fontSize":24,"color":"#000000"},"encoding":{"x":{"field":"x","type":"quantitative"},"y":{"field":"y","type":"quantitative"},"text":{"field":"t"}}}
]}
],"spacing":0,"bounds":"flush"},
{"width":1,"height":26,"data":{"values":[]},"mark":"point"},
{"hconcat":[
{"width":614,"height":1,"data":{"values":[]},"mark":"point"},
{"width":106,"height":170,"view":{"fill":"#ebebeb"},"title":"CAMKK2","layer":[
{"data":{"values":[{"m":-0.25},{"m":-0.75},{"m":-1.25},{"m":-1.75}]},"mark":{"type":"rule","color":"#ffffff","strokeWidth":0.8},"encoding":{"y":{"field":"m","type":"quantitative"}}},
{"data":{"values":[{"a":1}]},"mark":{"type":"rect","color":"#d3d1d1"},"encoding":{"y":{"datum":0.0965},"y2":{"datum":0.4586}}},
{"data":{"name":"fold"},"transform":[{"filter":"datum.g=='CAMKK2'"}],"mark":{"type":"bar","color":"#3b3835"},"encoding":{"x":{"field":"p","type":"nominal","title":null,"scale":{"paddingInner":0.1,"paddingOuter":0.15},"axis":{"labels":false,"ticks":false,"grid":true}},"y":{"field":"v","type":"quantitative","title":null,"stack":null,"scale":{"domain":[-2.0265,0.0965],"nice":false,"zero":false},"axis":{"values":[0,-0.5,-1,-1.5,-2],"format":".1f"}}}},
{"data":{"values":[{"a":1}]},"mark":{"type":"rule","color":"#000000","strokeWidth":1.5},"encoding":{"y":{"datum":0}}}
]},
{"width":106,"height":170,"view":{"fill":"#ebebeb"},"title":"KLK12","layer":[
{"data":{"values":[{"m":-0.5},{"m":-1.5},{"m":-2.5}]},"mark":{"type":"rule","color":"#ffffff","strokeWidth":0.8},"encoding":{"y":{"field":"m","type":"quantitative"}}},
{"data":{"values":[{"a":1}]},"mark":{"type":"rect","color":"#d3d1d1"},"encoding":{"y":{"datum":0.138},"y2":{"datum":0.655}}},
{"data":{"name":"fold"},"transform":[{"filter":"datum.g=='KLK12'"}],"mark":{"type":"bar","color":"#3b3835"},"encoding":{"x":{"field":"p","type":"nominal","title":null,"scale":{"paddingInner":0.1,"paddingOuter":0.15},"axis":{"labels":false,"ticks":false,"grid":true}},"y":{"field":"v","type":"quantitative","title":null,"stack":null,"scale":{"domain":[-2.893,0.138],"nice":false,"zero":false},"axis":{"values":[0,-1,-2],"format":"d"}}}},
{"data":{"values":[{"a":1}]},"mark":{"type":"rule","color":"#000000","strokeWidth":1.5},"encoding":{"y":{"datum":0}}}
]},
{"width":106,"height":170,"view":{"fill":"#ebebeb"},"title":"KLK15","layer":[
{"data":{"values":[{"m":-1},{"m":-3},{"m":-5},{"m":-7}]},"mark":{"type":"rule","color":"#ffffff","strokeWidth":0.8},"encoding":{"y":{"field":"m","type":"quantitative"}}},
{"data":{"values":[{"a":1}]},"mark":{"type":"rect","color":"#d3d1d1"},"encoding":{"y":{"datum":0.386},"y2":{"datum":1.833}}},
{"data":{"name":"fold"},"transform":[{"filter":"datum.g=='KLK15'"}],"mark":{"type":"bar","color":"#3b3835"},"encoding":{"x":{"field":"p","type":"nominal","title":null,"scale":{"paddingInner":0.1,"paddingOuter":0.15},"axis":{"labels":false,"ticks":false,"grid":true}},"y":{"field":"v","type":"quantitative","title":null,"stack":null,"scale":{"domain":[-8.096,0.386],"nice":false,"zero":false},"axis":{"values":[0,-2,-4,-6,-8],"format":"d"}}}},
{"data":{"values":[{"a":1}]},"mark":{"type":"rule","color":"#000000","strokeWidth":1.5},"encoding":{"y":{"datum":0}}}
]}
],"spacing":43,"bounds":"flush"},
{"width":1,"height":226,"data":{"values":[]},"mark":"point"},
{"hconcat":[
{"width":610,"height":1,"data":{"values":[]},"mark":"point"},
{"width":106,"height":170,"view":{"fill":"#ebebeb"},"title":"KLK2","layer":[
{"data":{"values":[{"m":-1},{"m":-3},{"m":-5},{"m":-7}]},"mark":{"type":"rule","color":"#ffffff","strokeWidth":0.8},"encoding":{"y":{"field":"m","type":"quantitative"}}},
{"data":{"values":[{"a":1}]},"mark":{"type":"rect","color":"#d3d1d1"},"encoding":{"y":{"datum":0.386},"y2":{"datum":1.835}}},
{"data":{"name":"fold"},"transform":[{"filter":"datum.g=='KLK2'"}],"mark":{"type":"bar","color":"#3b3835"},"encoding":{"x":{"field":"p","type":"nominal","title":null,"scale":{"paddingInner":0.1,"paddingOuter":0.15},"axis":{"labelAngle":-90,"grid":true,"labelPadding":10}},"y":{"field":"v","type":"quantitative","title":null,"stack":null,"scale":{"domain":[-8.106,0.386],"nice":false,"zero":false},"axis":{"values":[0,-2,-4,-6,-8],"format":"d"}}}},
{"data":{"values":[{"a":1}]},"mark":{"type":"rule","color":"#000000","strokeWidth":1.5},"encoding":{"y":{"datum":0}}}
]},
{"width":106,"height":170,"view":{"fill":"#ebebeb"},"title":"KLK3","layer":[
{"data":{"values":[{"m":-1},{"m":-3},{"m":-5},{"m":-7}]},"mark":{"type":"rule","color":"#ffffff","strokeWidth":0.8},"encoding":{"y":{"field":"m","type":"quantitative"}}},
{"data":{"values":[{"a":1}]},"mark":{"type":"rect","color":"#d3d1d1"},"encoding":{"y":{"datum":0.402},"y2":{"datum":1.911}}},
{"data":{"name":"fold"},"transform":[{"filter":"datum.g=='KLK3'"}],"mark":{"type":"bar","color":"#3b3835"},"encoding":{"x":{"field":"p","type":"nominal","title":null,"scale":{"paddingInner":0.1,"paddingOuter":0.15},"axis":{"labelAngle":-90,"grid":true,"labelPadding":10}},"y":{"field":"v","type":"quantitative","title":null,"stack":null,"scale":{"domain":[-8.442,0.402],"nice":false,"zero":false},"axis":{"values":[0,-2,-4,-6,-8],"format":"d"}}}},
{"data":{"values":[{"a":1}]},"mark":{"type":"rule","color":"#000000","strokeWidth":1.5},"encoding":{"y":{"datum":0}}}
]},
{"width":106,"height":170,"view":{"fill":"#ebebeb"},"title":"SOX4","layer":[
{"data":{"values":[{"m":-0.5},{"m":-1.5},{"m":-2.5}]},"mark":{"type":"rule","color":"#ffffff","strokeWidth":0.8},"encoding":{"y":{"field":"m","type":"quantitative"}}},
{"data":{"values":[{"a":1}]},"mark":{"type":"rect","color":"#d3d1d1"},"encoding":{"y":{"datum":0.13},"y2":{"datum":0.62}}},
{"data":{"name":"fold"},"transform":[{"filter":"datum.g=='SOX4'"}],"mark":{"type":"bar","color":"#3b3835"},"encoding":{"x":{"field":"p","type":"nominal","title":null,"scale":{"paddingInner":0.1,"paddingOuter":0.15},"axis":{"labelAngle":-90,"grid":true,"labelPadding":10}},"y":{"field":"v","type":"quantitative","title":null,"stack":null,"scale":{"domain":[-2.74,0.13],"nice":false,"zero":false},"axis":{"values":[0,-1,-2],"format":"d"}}}},
{"data":{"values":[{"a":1}]},"mark":{"type":"rule","color":"#000000","strokeWidth":1.5},"encoding":{"y":{"datum":0}}}
]}
],"spacing":43,"bounds":"flush"},
{"hconcat":[
{"width":1094,"height":1,"data":{"values":[]},"mark":"point"},
{"width":105,"height":170,"view":{"fill":"#ebebeb"},"title":"TMPRSS2","layer":[
{"data":{"values":[{"m":-0.5},{"m":-1.5},{"m":-2.5},{"m":-3.5}]},"mark":{"type":"rule","color":"#ffffff","strokeWidth":0.8},"encoding":{"y":{"field":"m","type":"quantitative"}}},
{"data":{"values":[{"a":1}]},"mark":{"type":"rect","color":"#d3d1d1"},"encoding":{"y":{"datum":0.183},"y2":{"datum":0.869}}},
{"data":{"name":"fold"},"transform":[{"filter":"datum.g=='TMPRSS2'"}],"mark":{"type":"bar","color":"#3b3835"},"encoding":{"x":{"field":"p","type":"nominal","title":null,"scale":{"paddingInner":0.1,"paddingOuter":0.15},"axis":{"labelAngle":-90,"grid":true,"labelPadding":10}},"y":{"field":"v","type":"quantitative","title":null,"stack":null,"scale":{"domain":[-3.833,0.183],"nice":false,"zero":false},"axis":{"values":[0,-1,-2,-3],"format":"d"}}}},
{"data":{"values":[{"a":1}]},"mark":{"type":"rule","color":"#000000","strokeWidth":1.5},"encoding":{"y":{"datum":0}}}
]}
],"spacing":0,"bounds":"flush"}
]}
